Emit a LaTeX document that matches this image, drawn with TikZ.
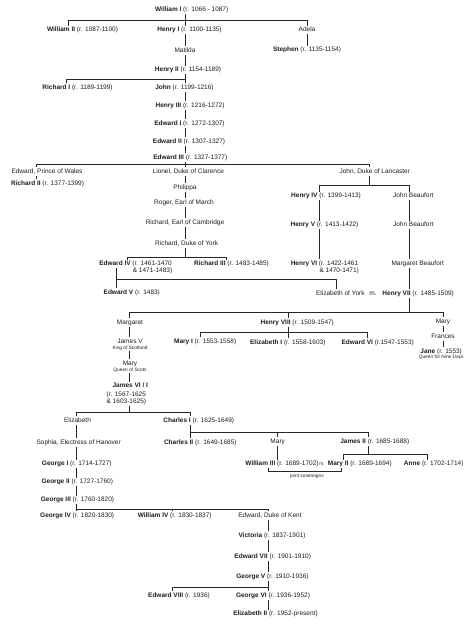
\documentclass[tikz,border=0pt]{standalone}
\usepackage{fontspec}
\setmainfont{Liberation Sans}
\newcommand\vcon[3]{\draw[ln] (#1,0 |- #2.south) -- (#1,0 |- #3.north);}
\begin{document}
\begin{tikzpicture}[x=1pt,y=-1pt,
  nm/.style={inner sep=1pt, font=\fontsize{6.5}{7}\selectfont, text height=5pt, text depth=1.5pt, text=black!88},
  sm/.style={inner sep=0.5pt, font=\fontsize{4.8}{5}\selectfont, text height=3.5pt, text depth=1pt, text=black!88},
  ln/.style={line width=0.9pt, draw=black!85},
  thin/.style={line width=0.5pt, draw=black!85}]
\fill[white] (0,0) rectangle (474,624);
\useasboundingbox (0,0) rectangle (474,624);
% ---- nodes ----
\node[nm] (wil1) at (191.7,9.3) {\textbf{William I} (r. 1066 - 1087)};
\node[nm] (wil2) at (82.5,30) {\textbf{William II} (r. 1087-1100)};
\node[nm] (hen1) at (189.5,30) {\textbf{Henry I} (r. 1100-1135)};
\node[nm] (adela) at (307,30) {Adela};
\node[nm] (steph) at (307,50) {\textbf{Stephen} (r. 1135-1154)};
\node[nm] (matilda) at (185,50.7) {Matilda};
\node[nm] (hen2) at (188,70) {\textbf{Henry II} (r. 1154-1189)};
\node[nm] (ric1) at (77.5,87.7) {\textbf{Richard I} (r. 1189-1199)};
\node[nm] (john) at (184.5,87.7) {\textbf{John} (r. 1199-1216)};
\node[nm] (hen3) at (190,105.5) {\textbf{Henry III} (r. 1216-1272)};
\node[nm] (edw1) at (189.5,123.3) {\textbf{Edward I} (r. 1272-1307)};
\node[nm] (edw2) at (189,141.7) {\textbf{Edward II} (r. 1307-1327)};
\node[nm] (edw3) at (190.3,157.3) {\textbf{Edward III} (r. 1327-1377)};
\node[nm] (edpw) at (47,171.3) {Edward, Prince of Wales};
\node[nm] (ric2) at (47.5,183.3) {\textbf{Richard II} (r. 1377-1399)};
\node[nm] (lionel) at (188.3,171.3) {Lionel, Duke of Clarence};
\node[nm] (philippa) at (185,187.3) {Philippa};
\node[nm] (roger) at (184,202.8) {Roger, Earl of March};
\node[nm] (riccam) at (185,222.7) {Richard, Earl of Cambridge};
\node[nm] (ricyork) at (186.7,243.3) {Richard, Duke of York};
\node[nm] (edw4) at (135.5,264) {\textbf{Edward IV} (r. 1461-1470};
\node[nm] (edw4b) at (152.5,270.7) {\& 1471-1483)};
\node[nm] (ric3) at (231.5,264) {\textbf{Richard III} (r. 1483-1485)};
\node[nm] (edw5) at (131.8,292.3) {\textbf{Edward V} (r. 1483)};
\node[nm] (johnl) at (374.8,171.3) {John, Duke of Lancaster};
\node[nm] (hen4) at (326,196) {\textbf{Henry IV} (r. 1399-1413)};
\node[nm] (jbeau1) at (413.3,196) {John Beaufort};
\node[nm] (hen5) at (324.5,225) {\textbf{Henry V} (r. 1413-1422)};
\node[nm] (jbeau2) at (413.3,225) {John Beaufort};
\node[nm] (hen6) at (324.5,263.3) {\textbf{Henry VI} (r. 1422-1461};
\node[nm] (hen6b) at (339.2,270.5) {\& 1470-1471)};
\node[nm] (mbeau) at (417.7,263.3) {Margaret Beaufort};
\node[nm] (eliy) at (340.3,293.3) {Elizabeth of York};
\node[nm] (m1) at (373,293.3) {m.};
\node[nm] (hen7) at (418.2,293.3) {\textbf{Henry VII} (r. 1485-1509)};
\node[nm] (margaret) at (130,322.7) {Margaret};
\node[nm] (hen8) at (297.3,322.7) {\textbf{Henry VIII} (r. 1509-1547)};
\node[nm] (maryt) at (443,321.7) {Mary};
\node[nm] (frances) at (443,336.7) {Frances};
\node[nm] (jane) at (441.2,351.7) {\textbf{Jane} (r. 1553)};
\node[sm] (janeb) at (441.2,357.7) {Queen for Nine Days};
\node[nm] (mary1) at (205.2,341.7) {\textbf{Mary I} (r. 1553-1558)};
\node[nm] (eliz1) at (287.8,342.3) {\textbf{Elizabeth I} (r. 1558-1603)};
\node[nm] (edw6) at (377.7,342.3) {\textbf{Edward VI} (r.1547-1553)};
\node[nm] (jam5) at (130,341.7) {James V};
\node[sm] (jam5b) at (130,348.3) {King of Scotland};
\node[nm] (marys) at (130,363.3) {Mary};
\node[sm] (marysb) at (130,370) {Queen of Scots};
\node[nm] (jam6) at (130.3,386) {\textbf{James VI / I}};
\node[nm,anchor=west] (jam6b) at (105.5,394.3) {(r. 1567-1625};
\node[nm,anchor=west] (jam6c) at (105.5,401.7) {\& 1603-1625)};
\node[nm] (eliz) at (77.5,420.7) {Elizabeth};
\node[nm] (cha1) at (198.7,420.7) {\textbf{Charles I} (r. 1625-1649)};
\node[nm] (sophia) at (78.7,442.3) {Sophia, Electress of Hanover};
\node[nm] (cha2) at (200.3,442.3) {\textbf{Charles II} (r. 1649-1685)};
\node[nm] (maryst) at (277.7,441.7) {Mary};
\node[nm] (jam2) at (374.8,441.7) {\textbf{James II} (r. 1685-1688)};
\node[nm] (wil3) at (282,464) {\textbf{William III} (r. 1689-1702)};
\node[sm] (m2) at (322,464.6) {m.};
\node[nm] (mary2) at (359.8,464) {\textbf{Mary II} (r. 1689-1694)};
\node[nm] (anne) at (433.7,464) {\textbf{Anne} (r. 1702-1714)};
\node[sm] (joint) at (307,476.5) {joint sovereigns};
\node[nm] (geo1) at (76.8,464) {\textbf{George I} (r. 1714-1727)};
\node[nm] (geo2) at (77.3,482) {\textbf{George II} (r. 1727-1760)};
\node[nm] (geo3) at (77.5,500) {\textbf{George III} (r. 1760-1820)};
\node[nm] (geo4) at (77.2,515.7) {\textbf{George IV} (r. 1820-1830)};
\node[nm] (wil4) at (174.7,515.7) {\textbf{William IV} (r. 1830-1837)};
\node[nm] (edkent) at (270,515.7) {Edward, Duke of Kent};
\node[nm] (vic) at (272,535.7) {\textbf{Victoria} (r. 1837-1901)};
\node[nm] (edw7) at (272.7,556.7) {\textbf{Edward VII} (r. 1901-1910)};
\node[nm] (geo5) at (272.5,576.7) {\textbf{George V} (r. 1910-1936)};
\node[nm] (edw8) at (179,595.7) {\textbf{Edward VIII} (r. 1936)};
\node[nm] (geo6) at (273,595.7) {\textbf{George VI} (r. 1936-1952)};
\node[nm] (eliz2) at (275.5,614) {\textbf{Elizabeth II} (r. 1952-present)};
% ---- connectors ----
\vcon{185}{wil1}{hen1}
\draw[ln] (68.3,0 |- wil2.north) |- (307,20.7) -- (307,0 |- adela.north);
\vcon{307}{adela}{steph}
\vcon{185}{hen1}{matilda}
\vcon{185}{matilda}{hen2}
\vcon{185}{hen2}{john}
\draw[ln] (66.7,0 |- ric1.north) |- (185,79);
\vcon{185}{john}{hen3}
\vcon{185}{hen3}{edw1}
\vcon{185}{edw1}{edw2}
\vcon{185}{edw2}{edw3}
\vcon{185}{edw3}{lionel}
\draw[ln] (36,0 |- edpw.north) |- (369.7,164.3) -- (369.7,0 |- johnl.north);
\vcon{36}{edpw}{ric2}
\vcon{185}{lionel}{philippa}
\vcon{185}{philippa}{roger}
\vcon{185}{roger}{riccam}
\vcon{185}{riccam}{ricyork}
\draw[ln] (185,0 |- ricyork.south) -- (185,257.3);
\draw[ln] (127.3,0 |- edw4.north) |- (226,257.3) -- (226,0 |- ric3.north);
\vcon{116.7}{edw4}{edw5}
\draw[ln] (116.7,279) -| (336.3,0 |- eliy.north);
\draw[ln] (369.7,0 |- johnl.south) -- (369.7,185.7);
\draw[ln] (319.7,0 |- hen4.north) |- (409.7,185.7) -- (409.7,0 |- jbeau1.north);
\vcon{319.7}{hen4}{hen5}
\vcon{319.7}{hen5}{hen6}
\vcon{409.7}{jbeau1}{jbeau2}
\vcon{409.7}{jbeau2}{mbeau}
\vcon{409.7}{mbeau}{hen7}
\draw[ln] (409.7,0 |- hen7.south) -- (409.7,312);
\draw[ln] (129,0 |- margaret.north) |- (443.5,312) -- (443.5,0 |- maryt.north);
\draw[ln] (288,312) -- (288,0 |- hen8.north);
\vcon{288}{hen8}{eliz1}
\draw[ln] (200,0 |- mary1.north) |- (367,332.5) -- (367,0 |- edw6.north);
\vcon{443.5}{maryt}{frances}
\vcon{443.5}{frances}{jane}
\vcon{129}{margaret}{jam5}
\vcon{129}{jam5b}{marys}
\vcon{129}{marysb}{jam6}
\draw[ln] (129.3,0 |- jam6c.south) -- (129.3,412.3);
\draw[ln] (76,0 |- eliz.north) |- (190,412.3) -- (190,0 |- cha1.north);
\vcon{76}{eliz}{sophia}
\vcon{76}{sophia}{geo1}
\vcon{76}{geo1}{geo2}
\vcon{76}{geo2}{geo3}
\vcon{76}{geo3}{geo4}
\vcon{190}{cha1}{cha2}
\draw[ln] (190,432.3) -| (368.7,0 |- jam2.north);
\draw[ln] (277.7,432.3) -- (277.7,0 |- maryst.north);
\vcon{277.7}{maryst}{wil3}
\draw[ln] (368.7,0 |- jam2.south) -- (368.7,454);
\draw[ln] (343,0 |- mary2.north) |- (427,454) -- (427,0 |- anne.north);
\draw[thin] (268.7,0 |- wil3.south) |- (341.3,471.7) -- (341.3,0 |- mary2.south);
\draw[ln] (76,509.3) -| (268,0 |- edkent.north);
\draw[ln] (172.7,509.3) -- (172.7,0 |- wil4.north);
\vcon{268}{edkent}{vic}
\vcon{268}{vic}{edw7}
\vcon{268}{edw7}{geo5}
\vcon{268}{geo5}{geo6}
\draw[ln] (172.7,0 |- edw8.north) |- (268,587.3);
\vcon{268}{geo6}{eliz2}
\end{tikzpicture}
\end{document}
